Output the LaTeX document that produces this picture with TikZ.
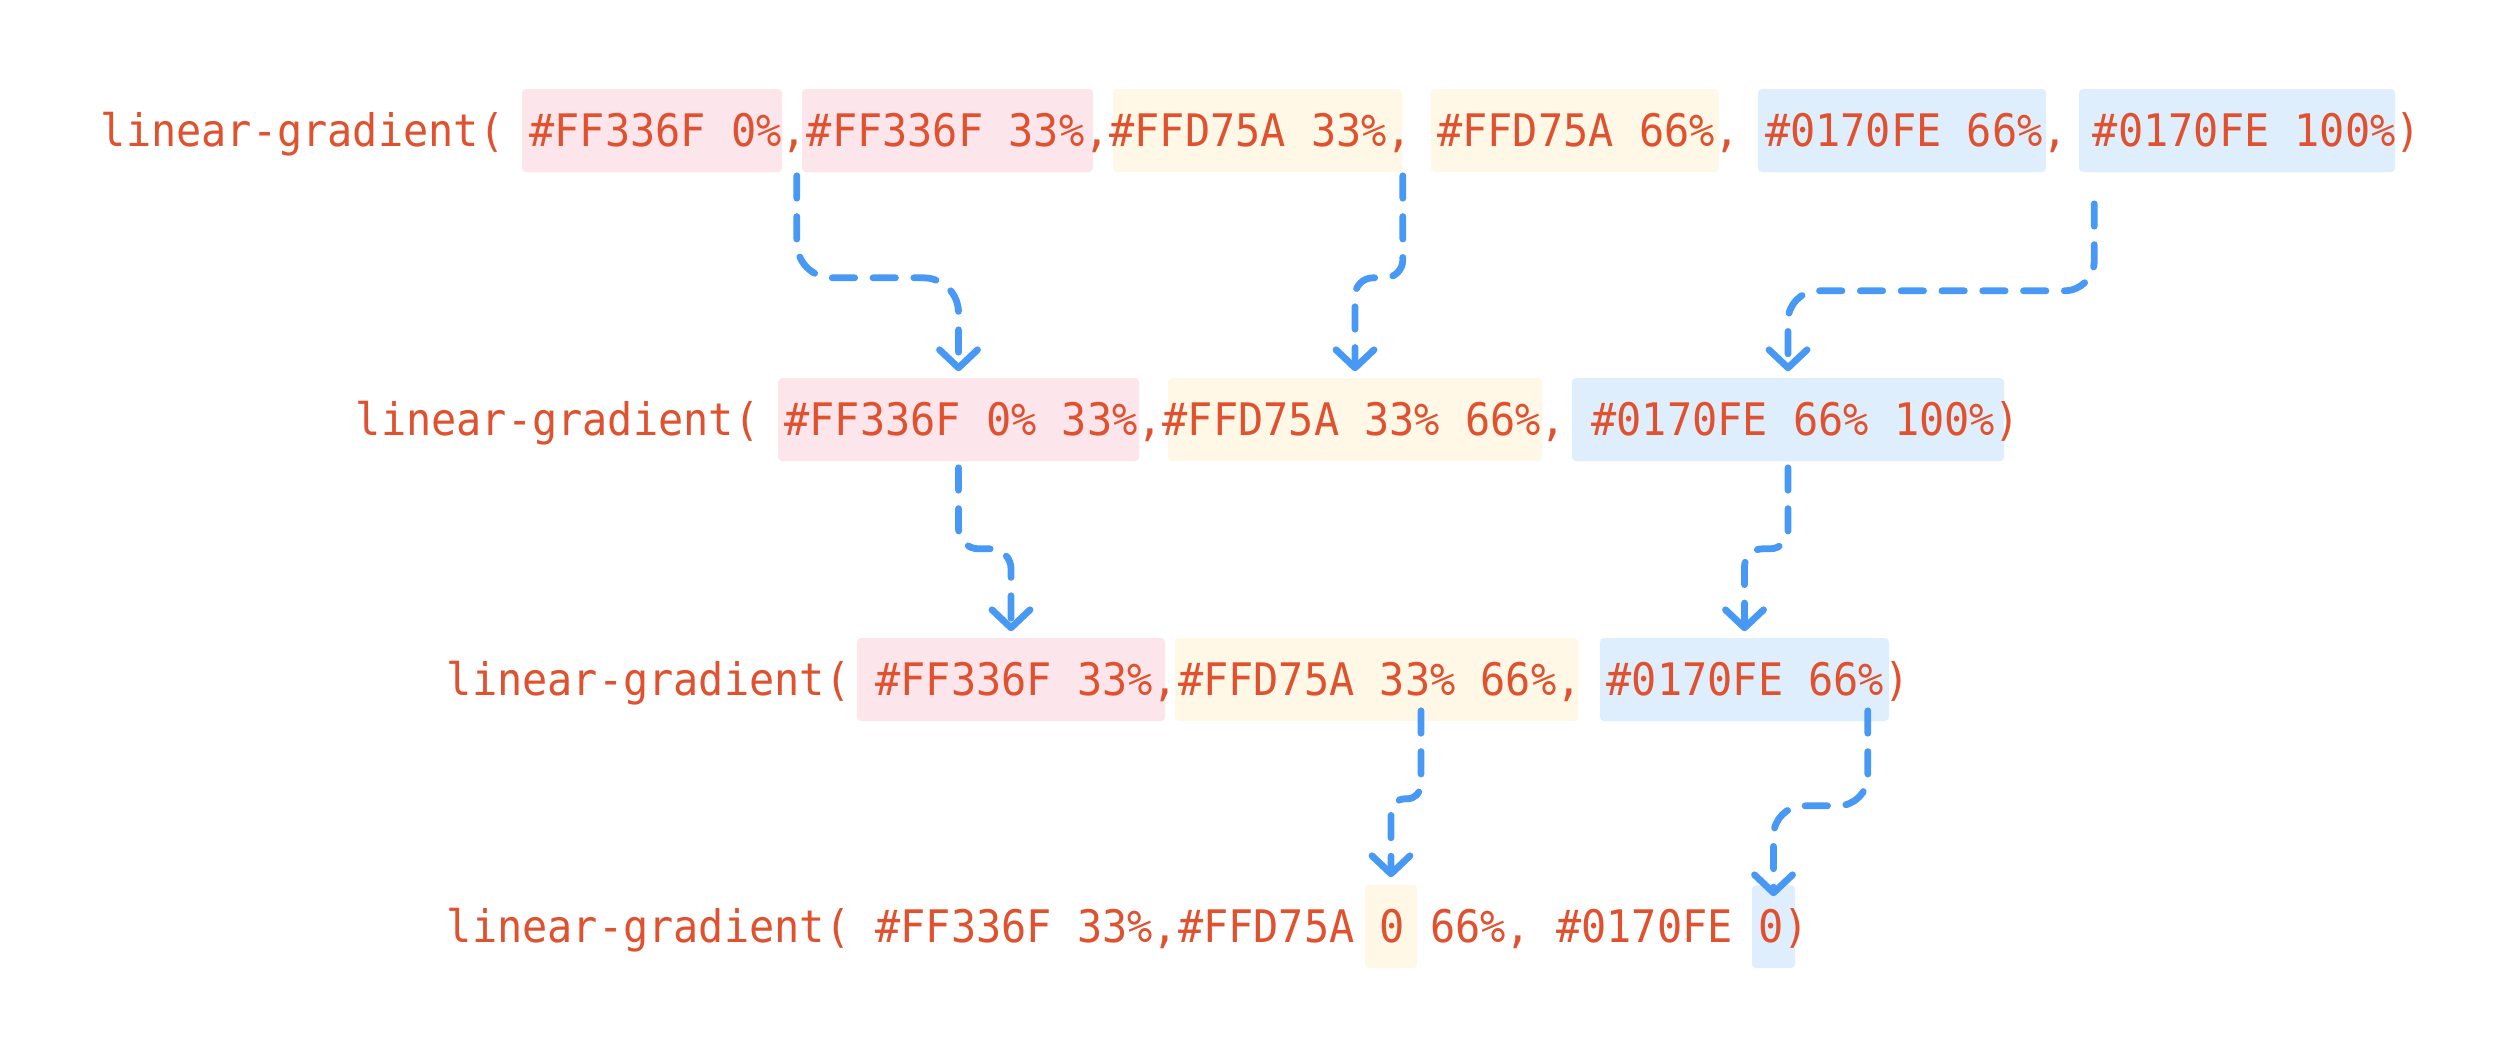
\documentclass[tikz,border=0pt]{standalone}
\usepackage{fontspec}
\setmonofont[FakeStretch=0.935]{DejaVu Sans Mono}
\usetikzlibrary{arrows.meta,calc,fit}
\definecolor{txt}{HTML}{E0512F}
\definecolor{pinkbg}{HTML}{FCE6EB}
\definecolor{yellowbg}{HTML}{FFF8E7}
\definecolor{bluebg}{HTML}{DFEEFC}
\definecolor{flowblue}{HTML}{4899F5}
\tikzset{
  code/.style={inner sep=0pt, anchor=base west, text=txt,
    font=\fontsize{11.2pt}{13pt}\selectfont\ttfamily},
  hlbox/.style={inner sep=0pt, rounded corners=1pt, draw=none},
  pinkhl/.style={hlbox, fill=pinkbg},
  yellowhl/.style={hlbox, fill=yellowbg},
  bluehl/.style={hlbox, fill=bluebg},
  flow/.style={draw=flowblue, line width=1.7pt, line cap=round,
    dash pattern=on 5.6pt off 4.6pt,
    -{Straight Barb[length=4.5pt,width=9.5pt,round]}}
}
\begin{document}
\begin{tikzpicture}[x=0.25pt,y=-0.25pt]
\fill[white] (0,0) rectangle (2512,1052);
\useasboundingbox (0,0) rectangle (2512,1052);

% row 1 highlight boxes
\node[pinkhl,   fit={(522,89) (782,172)}]   (A1) {};
\node[pinkhl,   fit={(802,89) (1093,172)}]  (B1) {};
\node[yellowhl, fit={(1113,89) (1402,172)}] (C1) {};
\node[yellowhl, fit={(1431,89) (1719,172)}] (D1) {};
\node[bluehl,   fit={(1758,89) (2046,172)}] (E1) {};
\node[bluehl,   fit={(2079,89) (2395,172)}] (F1) {};
% row 2
\node[pinkhl,   fit={(778,378) (1139,461)}]  (P2) {};
\node[yellowhl, fit={(1168,378) (1542,461)}] (Y2) {};
\node[bluehl,   fit={(1572,378) (2004,461)}] (B2) {};
% row 3
\node[pinkhl,   fit={(857,638) (1165,721)}]  (P3) {};
\node[yellowhl, fit={(1175,638) (1578,721)}] (Y3) {};
\node[bluehl,   fit={(1600,638) (1889,721)}] (B3) {};
% row 4
\node[yellowhl, fit={(1365,885) (1417,968)}] (Y4) {};
\node[bluehl,   fit={(1752,885) (1795,968)}] (B4) {};

% texts
\node[code] (L1) at (100,146) {linear-gradient( \#FF336F 0\%,\#FF336F 33\%,\#FFD75A 33\%, \#FFD75A 66\%, \#0170FE 66\%, \#0170FE 100\%)};
\node[code] (L2) at (355,435.5) {linear-gradient( \#FF336F 0\% 33\%,\#FFD75A 33\% 66\%, \#0170FE 66\% 100\%)};
\node[code] (L3) at (446,695.5) {linear-gradient( \#FF336F 33\%,\#FFD75A 33\% 66\%, \#0170FE 66\%)};
\node[code] (L4) at (446,942.5) {linear-gradient( \#FF336F 33\%,\#FFD75A 0 66\%, \#0170FE 0)};

% connectors
\draw[flow, rounded corners=8.75pt, shorten >=1.5pt]
  ($(A1.south east)+(14,3)$) -- ++(0,102) -| (P2.north);
\draw[flow, rounded corners=4.5pt, shorten >=1.5pt]
  ($(C1.south east)+(0,3)$) -- ++(0,102) -| (Y2.north);
\draw[flow, rounded corners=7.5pt, shorten >=1.5pt]
  ($(F1.south west)+(16,31)$) -- ++(0,87) -| (B2.north);
\draw[flow, rounded corners=5pt, shorten >=1.5pt]
  ($(P2.south)+(0,6)$) -- ++(0,81) -| (P3.north);
\draw[flow, rounded corners=4.5pt, shorten >=1.5pt]
  ($(B2.south)+(0,6)$) -- ++(0,81) -| (B3.north);
\draw[flow, rounded corners=3.5pt, shorten >=1.75pt]
  ($(Y3.south)+(44.5,-11)$) -- ++(0,88) -| (Y4.north);
\draw[flow, rounded corners=7.5pt, shorten >=-3pt]
  ($(B3.south east)+(-22,-11)$) -- ++(0,95) -| (B4.north);
\end{tikzpicture}
\end{document}
